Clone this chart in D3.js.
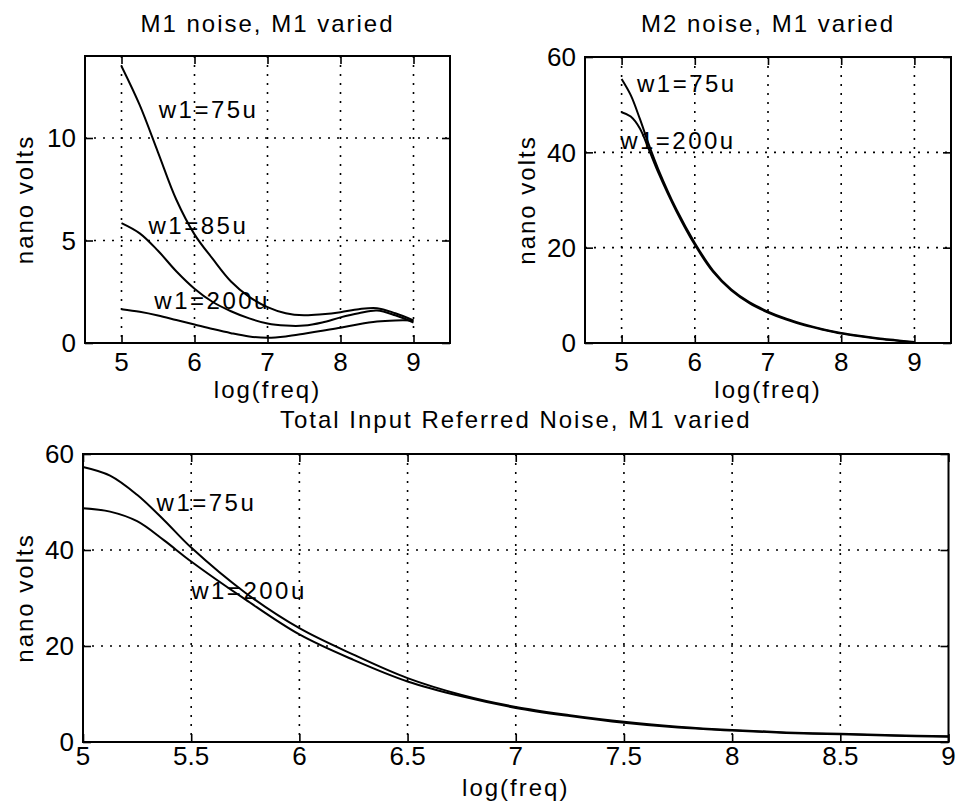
<!DOCTYPE html>
<html>
<head>
<meta charset="utf-8">
<script src="https://cdn.jsdelivr.net/npm/d3@7"></script>
<style>
  body { margin: 0; background: #fff; }
  text { font-family: "Liberation Sans", Arial, sans-serif; fill: #000; letter-spacing: 2px; }
</style>
</head>
<body>
<div id="chart"></div>
<script>
// ---- data ----
// top left: M1 noise, M1 varied
const m1X = [5, 5.25, 5.5, 5.75, 6, 6.25, 6.5, 6.75, 7, 7.25, 7.5, 7.75, 8, 8.25, 8.5, 8.75, 9];
const m1W75 = [13.5, 11.6, 9.3, 7.0, 5.3, 4.1, 3.0, 2.25, 1.75, 1.45, 1.35, 1.4, 1.5, 1.65, 1.7, 1.45, 1.1];
const m1W85 = [5.85, 5.35, 4.5, 3.5, 2.65, 2.0, 1.55, 1.2, 0.95, 0.85, 0.85, 1.0, 1.25, 1.45, 1.58, 1.35, 1.0];
const m1W200 = [1.65, 1.52, 1.34, 1.12, 0.9, 0.68, 0.48, 0.32, 0.26, 0.32, 0.45, 0.6, 0.74, 0.92, 1.05, 1.1, 1.1];

// top right: M2 noise, M1 varied
const m2X = [5, 5.125, 5.25, 5.375, 5.5, 5.75, 6, 6.25, 6.5, 6.75, 7, 7.25, 7.5, 7.75, 8, 8.25, 8.5, 8.75, 9];
const m2W75 = [55.4, 52, 47, 41.5, 36.5, 28, 21, 15.2, 11.2, 8.5, 6.6, 5.1, 3.9, 2.9, 2.1, 1.5, 1.0, 0.6, 0.2];
const m2W200 = [48.4, 47.5, 45, 40.5, 35.8, 27.6, 20.6, 14.9, 11.0, 8.3, 6.4, 4.9, 3.7, 2.8, 2.0, 1.4, 0.9, 0.5, 0.1];

// bottom: total input referred noise
const totX = [5, 5.125, 5.25, 5.375, 5.5, 5.75, 6, 6.25, 6.5, 6.75, 7, 7.25, 7.5, 7.75, 8, 8.25, 8.5, 8.75, 9];
const totW75 = [57.3, 55.5, 51.5, 46.2, 40.5, 31.1, 23.7, 18.2, 13.3, 9.8, 7.3, 5.6, 4.2, 3.2, 2.5, 2.0, 1.7, 1.4, 1.2];
const totW200 = [48.7, 48.0, 46.0, 42.0, 37.6, 29.7, 22.4, 17.1, 12.6, 9.5, 7.1, 5.4, 4.0, 3.0, 2.4, 1.9, 1.6, 1.3, 1.1];

const m1Ticks = [5, 6, 7, 8, 9];
const m1YTicks = [0, 5, 10];
const m2YTicks = [0, 20, 40, 60];
const totXTicks = [5, 5.5, 6, 6.5, 7, 7.5, 8, 8.5, 9];
const totYTicks = [0, 20, 40, 60];

// curve labels, in data units
const m1Labels = [["w1=75u", 5.51, 10.96], ["w1=85u", 5.37, 5.33], ["w1=200u", 5.45, 1.68]];
const m2Labels = [["w1=75u", 5.21, 52.6], ["w1=200u", 4.98, 40.8]];
const totLabels = [["w1=75u", 5.34, 48.2], ["w1=200u", 5.5, 29.7]];

const svg = d3.select("#chart").append("svg")
  .attr("width", 958)
  .attr("height", 805);

function panel(p) {
  let x = d3.scaleLinear().domain(p.xDomain).range([p.left, p.right]);
  let y = d3.scaleLinear().domain(p.yDomain).range([p.bottom, p.top]);
  let g = svg.append("g");

  // dotted grid
  let xg = p.xTicks.filter(d => x(d) > p.left + 1 && x(d) < p.right - 1);
  let yg = p.yTicks.filter(d => y(d) > p.top + 1 && y(d) < p.bottom - 1);
  g.selectAll(".vg").data(xg).enter().append("line")
    .attr("x1", d => x(d)).attr("x2", d => x(d))
    .attr("y1", p.top).attr("y2", p.bottom)
    .attr("stroke", "#000").attr("stroke-width", 1.6)
    .attr("stroke-dasharray", "2,7");
  g.selectAll(".hg").data(yg).enter().append("line")
    .attr("x1", p.left).attr("x2", p.right)
    .attr("y1", d => y(d)).attr("y2", d => y(d))
    .attr("stroke", "#000").attr("stroke-width", 1.6)
    .attr("stroke-dasharray", "2,7");

  // inward ticks on all four sides
  let tl = 8;
  g.append("g").attr("transform", `translate(0,${p.bottom})`)
    .call(d3.axisTop(x).tickValues(p.xTicks).tickSize(tl).tickFormat(""))
    .call(a => a.select(".domain").remove());
  g.append("g").attr("transform", `translate(0,${p.top})`)
    .call(d3.axisBottom(x).tickValues(p.xTicks).tickSize(tl).tickFormat(""))
    .call(a => a.select(".domain").remove());
  g.append("g").attr("transform", `translate(${p.left},0)`)
    .call(d3.axisRight(y).tickValues(p.yTicks).tickSize(tl).tickFormat(""))
    .call(a => a.select(".domain").remove());
  g.append("g").attr("transform", `translate(${p.right},0)`)
    .call(d3.axisLeft(y).tickValues(p.yTicks).tickSize(tl).tickFormat(""))
    .call(a => a.select(".domain").remove());
  g.selectAll(".tick line").attr("stroke", "#000").attr("stroke-width", 1.6);

  // tick labels
  g.selectAll(".xl").data(p.xTicks).enter().append("text")
    .attr("x", d => x(d))
    .attr("y", p.bottom + p.xLabelGap)
    .attr("text-anchor", "middle")
    .style("font-size", "26px")
    .style("letter-spacing", "0px")
    .text(d => d);
  g.selectAll(".yl").data(p.yTicks).enter().append("text")
    .attr("x", p.left - 9)
    .attr("y", d => y(d))
    .attr("dy", "0.36em")
    .attr("text-anchor", "end")
    .style("font-size", "26px")
    .style("letter-spacing", "0px")
    .text(d => d);

  // frame
  g.append("rect")
    .attr("x", p.left).attr("y", p.top)
    .attr("width", p.right - p.left).attr("height", p.bottom - p.top)
    .attr("fill", "none").attr("stroke", "#000").attr("stroke-width", 2);

  // curves
  let line = d3.line()
    .x(d => x(d[0]))
    .y(d => y(d[1]))
    .curve(d3.curveCatmullRom);
  p.series.forEach(s => {
    g.append("path")
      .datum(p.xs.map((v, i) => [v, s[i]]))
      .attr("d", line)
      .attr("fill", "none")
      .attr("stroke", "#000")
      .attr("stroke-width", 2);
  });

  // curve labels
  g.selectAll(".cl").data(p.labels).enter().append("text")
    .attr("x", d => x(d[1]))
    .attr("y", d => y(d[2]))
    .style("font-size", "24px")
    .style("letter-spacing", "2.5px")
    .text(d => d[0]);

  // titles
  let cx = (p.left + p.right) / 2;
  g.append("text")
    .attr("x", cx).attr("y", p.titleY)
    .attr("text-anchor", "middle")
    .style("font-size", "24px")
    .text(p.title);
  g.append("text")
    .attr("x", cx).attr("y", p.xTitleY)
    .attr("text-anchor", "middle")
    .style("font-size", "24px")
    .text("log(freq)");
  g.append("text")
    .attr("transform", `translate(${p.yTitleX},${(p.top + p.bottom) / 2}) rotate(-90)`)
    .attr("text-anchor", "middle")
    .style("font-size", "24px")
    .text("nano volts");
}

panel({
  title: "M1 noise, M1 varied",
  left: 85, right: 450, top: 56, bottom: 343,
  xDomain: [4.5, 9.5], yDomain: [0, 14],
  xTicks: m1Ticks, yTicks: m1YTicks,
  xs: m1X, series: [m1W75, m1W85, m1W200], labels: m1Labels,
  titleY: 32, xLabelGap: 28, xTitleY: 398, yTitleX: 33
});

panel({
  title: "M2 noise, M1 varied",
  left: 585, right: 951, top: 57, bottom: 343,
  xDomain: [4.5, 9.5], yDomain: [0, 60],
  xTicks: m1Ticks, yTicks: m2YTicks,
  xs: m2X, series: [m2W75, m2W200], labels: m2Labels,
  titleY: 32, xLabelGap: 28, xTitleY: 398, yTitleX: 535
});

panel({
  title: "Total Input Referred Noise, M1 varied",
  left: 83, right: 948.5, top: 454, bottom: 742,
  xDomain: [5, 9], yDomain: [0, 60],
  xTicks: totXTicks, yTicks: totYTicks,
  xs: totX, series: [totW75, totW200], labels: totLabels,
  titleY: 428, xLabelGap: 23, xTitleY: 796, yTitleX: 33
});
</script>
</body>
</html>
